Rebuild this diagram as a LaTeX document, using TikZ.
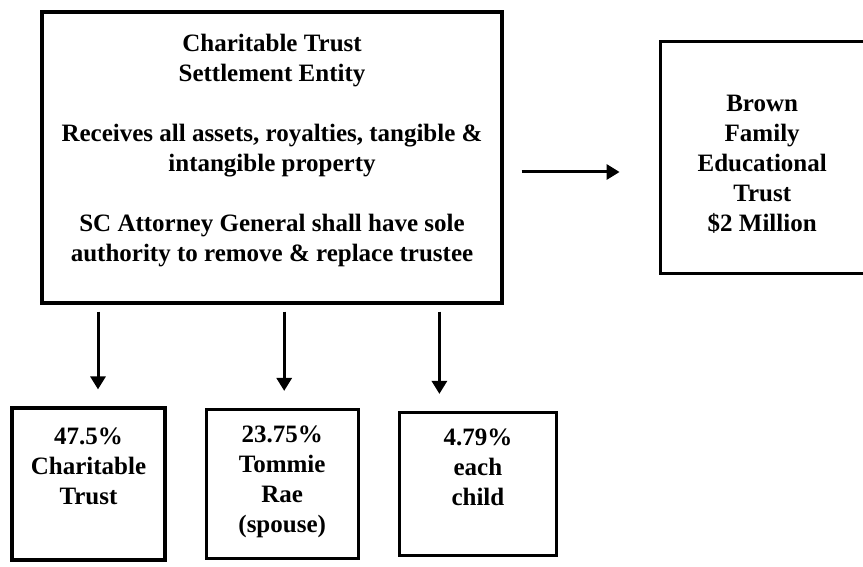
\documentclass[tikz,border=0pt]{standalone}
\usepackage{fontspec}
\setmainfont{Liberation Serif}
\usetikzlibrary{positioning, arrows.meta}
% text block pinned to the top of a box: width, height, top gap, lines
\newcommand{\boxtext}[4]{\parbox[c][#2][t]{#1}{\centering\vspace*{#3}#4}}
\tikzset{
  box/.style={draw, line width=1.6pt, inner sep=0pt, font=\bfseries\fontsize{12.5}{15}\selectfont},
  arr/.style={-{Triangle[length=6.5pt, width=7.5pt]}, line width=1.5pt}
}

\begin{document}
\begin{tikzpicture}[x=0.5pt, y=-0.5pt]
  \useasboundingbox (0,0) rectangle (863,567);
  \node[box] (trust) at (272,157.5) {\boxtext{230pt}{145.5pt}{11pt}{Charitable Trust\\Settlement Entity\\[15pt]Receives all assets, royalties, tangible \&\\intangible property\\[15pt]SC Attorney General shall have sole\\authority to remove \& replace trustee}};
  \node[box, right=77.5pt of trust] (brown) {\boxtext{102pt}{116pt}{26.8pt}{Brown\\Family\\Educational\\Trust\\\$2 Million}};
  \node[box] (charity) at (88.5,484) {\boxtext{76.5pt}{76pt}{10pt}{47.5\%\\Charitable\\Trust}};
  \node[box, right=19pt of charity] (spouse) {\boxtext{76pt}{74.5pt}{8pt}{23.75\%\\Tommie\\Rae\\(spouse)}};
  \node[box, right=19pt of spouse] (child) {\boxtext{78.5pt}{71.5pt}{8pt}{4.79\%\\each\\child}};
  \draw[arr, shorten <=9pt, shorten >=19.5pt] ([yshift=-7.25pt]trust.east) -- ([yshift=-7.25pt]trust.east -| brown.west);
  \draw[arr, shorten <=3.5pt, shorten >=8.5pt] ([xshift=4.75pt]charity.north |- trust.south) -- ([xshift=4.75pt]charity.north);
  \draw[arr, shorten <=3.5pt, shorten >=8.5pt] ([xshift=1pt]spouse.north |- trust.south) -- ([xshift=1pt]spouse.north);
  \draw[arr, shorten <=3.5pt, shorten >=8.5pt] ([xshift=-19.25pt]child.north |- trust.south) -- ([xshift=-19.25pt]child.north);
\end{tikzpicture}
\end{document}
